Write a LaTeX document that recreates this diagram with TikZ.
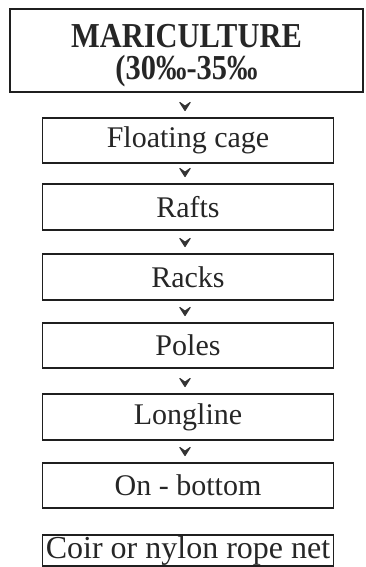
\documentclass[tikz,border=0pt]{standalone}
\usepackage{fontspec}
\setmainfont{Liberation Serif}
\usetikzlibrary{arrows.meta}
\begin{document}
\begin{tikzpicture}[x=1pt,y=-1pt,
  stepbox/.style={draw=black!88, line width=1.8pt, minimum width=291pt, inner sep=0pt,
    font=\fontsize{30}{34}\selectfont, text=black!85},
  topbox/.style={draw=black!88, line width=1.8pt, minimum width=353pt, minimum height=83pt, inner sep=0pt,
    align=center, font=\fontsize{35}{32}\selectfont\bfseries, text=black!85},
  chev/.style={-{Stealth[length=11pt,width=14pt,inset=5pt,round,color=black!80]}, white, line width=1pt,
    shorten <=3.5pt, shorten >=6pt}
]
\useasboundingbox (0,0) rectangle (366,567);
\node[topbox] (top) at (186.5,50.5) {\raisebox{-6pt}[\height][\depth]{\begin{tabular}{@{}c@{}}\scalebox{0.87}[1]{MARICULTURE}\\[-2pt]\scalebox{0.87}[1]{(30‰-35‰}\end{tabular}}};
\node[stepbox, minimum height=45pt] (b1) at (188,140.5) {Floating cage};
\node[stepbox, minimum height=46pt] (b2) at (188,207) {Rafts};
\node[stepbox, minimum height=46pt] (b3) at (188,277) {Racks};
\node[stepbox, minimum height=45pt] (b4) at (188,345.5) {Poles};
\node[stepbox, minimum height=46pt] (b5) at (188,417) {Longline};
\node[stepbox, minimum height=45pt] (b6) at (188,485.5) {On - bottom};
\node[stepbox, minimum height=31pt, font=\fontsize{32}{34}\selectfont] (b7) at (188,550.5) {Coir or nylon rope net};
\draw[chev] (top.south -| 185,0) -- (b1.north -| 185,0);
\draw[chev] (b1.south -| 185,0) -- (b2.north -| 185,0);
\draw[chev] (b2.south -| 185,0) -- (b3.north -| 185,0);
\draw[chev] (b3.south -| 185,0) -- (b4.north -| 185,0);
\draw[chev] (b4.south -| 185,0) -- (b5.north -| 185,0);
\draw[chev] (b5.south -| 185,0) -- (b6.north -| 185,0);
\end{tikzpicture}
\end{document}
